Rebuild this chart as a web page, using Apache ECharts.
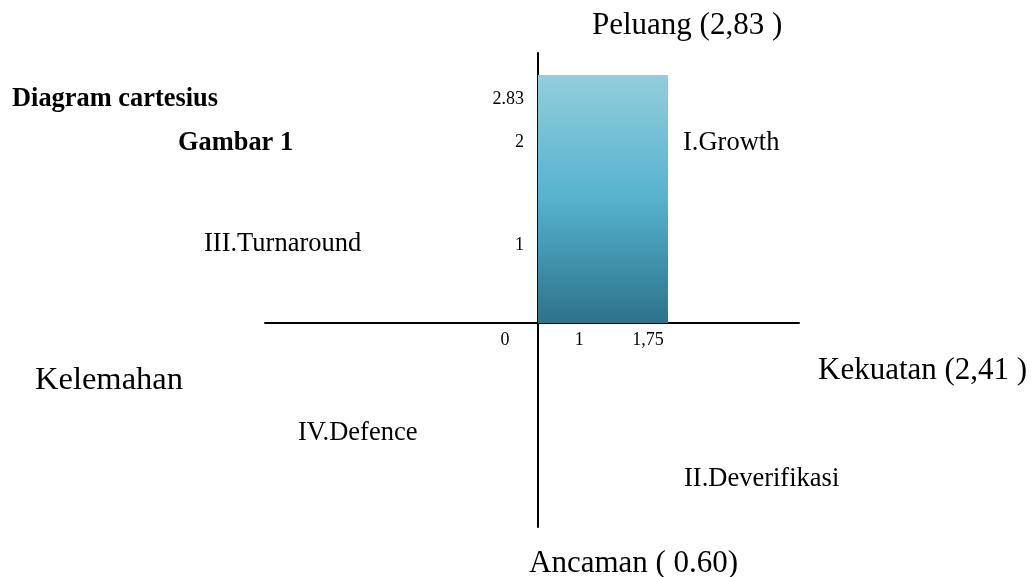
<!DOCTYPE html>
<html>
<head>
<meta charset="utf-8">
<script src="https://cdn.jsdelivr.net/npm/echarts@6/dist/echarts.min.js"></script>
<style>
  html, body { margin: 0; padding: 0; background: #fff; }
  #chart { width: 1033px; height: 577px; }
</style>
</head>
<body>
<div id="chart"></div>
<script>
// data: kotak posisi strategi (x0, y0, x1, y1)
const boxData = [[0, 0, 1.75, 2.83]]
const xTickValues = [0, 1, 1.75]
const xTickLabels = ['0', '1', '1,75']
const yTickValues = [1, 2, 2.83]
const yTickLabels = ['1', '2', '2.83']
const quadrantLabels = ['I.Growth', 'II.Deverifikasi', 'III.Turnaround', 'IV.Defence']
const axisNames = ['Peluang (2,83 )', 'Kekuatan (2,41 )', 'Ancaman ( 0.60)', 'Kelemahan']

const serif = '"Liberation Serif", "Times New Roman", serif'
const bigFont = '31px ' + serif
const midFont = '26.5px ' + serif

const chart = echarts.init(document.getElementById('chart'))

const option = {
  animation: false,
  title: [
    {
      text: 'Diagram cartesius',
      left: 12, top: 86, padding: 0,
      textStyle: { fontFamily: serif, fontSize: 26.4, fontWeight: 'bold', color: '#000' }
    },
    {
      text: 'Gambar 1',
      left: 178, top: 130, padding: 0,
      textStyle: { fontFamily: serif, fontSize: 26.4, fontWeight: 'bold', color: '#000' }
    }
  ],
  grid: { left: 265, right: 234, top: 53, bottom: 50, containLabel: false },
  xAxis: {
    type: 'value',
    min: -3.674,
    max: 3.513,
    position: 'bottom',
    offset: -204,
    splitLine: { show: false },
    axisTick: { show: false },
    axisLine: { show: true, onZero: false, lineStyle: { color: '#000', width: 2 } },
    axisLabel: {
      customValues: xTickValues,
      margin: 8,
      fontFamily: serif,
      fontSize: 18,
      color: '#000',
      formatter: function (v) {
        const i = xTickValues.indexOf(v)
        return '{s' + i + '|' + xTickLabels[i] + '}'
      },
      rich: {
        s0: { fontFamily: serif, fontSize: 18, color: '#000', padding: [0, 66, 0, 0] },
        s1: { fontFamily: serif, fontSize: 18, color: '#000', padding: [0, 66, 0, 0] },
        s2: { fontFamily: serif, fontSize: 18, color: '#000', padding: [0, 40, 0, 0] }
      }
    }
  },
  yAxis: {
    type: 'value',
    min: -2.328,
    max: 3.081,
    position: 'left',
    offset: -273,
    splitLine: { show: false },
    axisTick: { show: false },
    axisLine: { show: true, onZero: false, lineStyle: { color: '#000', width: 2 } },
    axisLabel: {
      customValues: yTickValues,
      margin: 14,
      fontFamily: serif,
      fontSize: 18,
      color: '#000',
      formatter: function (v) {
        const i = yTickValues.indexOf(v)
        return '{s' + i + '|' + yTickLabels[i] + '}'
      },
      rich: {
        s0: { fontFamily: serif, fontSize: 18, color: '#000', padding: [20, 0, 0, 0] },
        s1: { fontFamily: serif, fontSize: 18, color: '#000', padding: [0, 0, 10, 0] },
        s2: { fontFamily: serif, fontSize: 18, color: '#000', padding: [48, 0, 0, 0] }
      }
    }
  },
  series: [
    {
      type: 'custom',
      z: 1,
      data: boxData,
      encode: { x: [0, 2], y: [1, 3] },
      renderItem: function (params, api) {
        const p0 = api.coord([api.value(0), api.value(1)])
        const p1 = api.coord([api.value(2), api.value(3)])
        return {
          type: 'rect',
          shape: { x: p0[0], y: p1[1], width: p1[0] - p0[0], height: p0[1] - p1[1] },
          style: {
            fill: new echarts.graphic.LinearGradient(0, 0, 0, 1, [
              { offset: 0, color: '#93cedd' },
              { offset: 0.5, color: '#56b2ce' },
              { offset: 1, color: '#2b7389' }
            ])
          }
        }
      }
    }
  ],
  graphic: [
    // nama sumbu
    { type: 'text', left: 592, top: 10, style: { text: axisNames[0], font: bigFont, fill: '#000' } },
    { type: 'text', left: 818, top: 355, style: { text: axisNames[1], font: bigFont, fill: '#000' } },
    { type: 'text', left: 529, top: 548, style: { text: axisNames[2], font: bigFont, fill: '#000' } },
    { type: 'text', left: 35, top: 364, style: { text: axisNames[3], font: '32.5px ' + serif, fill: '#000' } },
    // label kuadran
    { type: 'text', left: 683, top: 130, style: { text: quadrantLabels[0], font: midFont, fill: '#000' } },
    { type: 'text', left: 684, top: 466, style: { text: quadrantLabels[1], font: midFont, fill: '#000' } },
    { type: 'text', left: 204, top: 231, style: { text: quadrantLabels[2], font: midFont, fill: '#000' } },
    { type: 'text', left: 298, top: 420, style: { text: quadrantLabels[3], font: midFont, fill: '#000' } }
  ]
}

chart.setOption(option)
</script>
</body>
</html>
